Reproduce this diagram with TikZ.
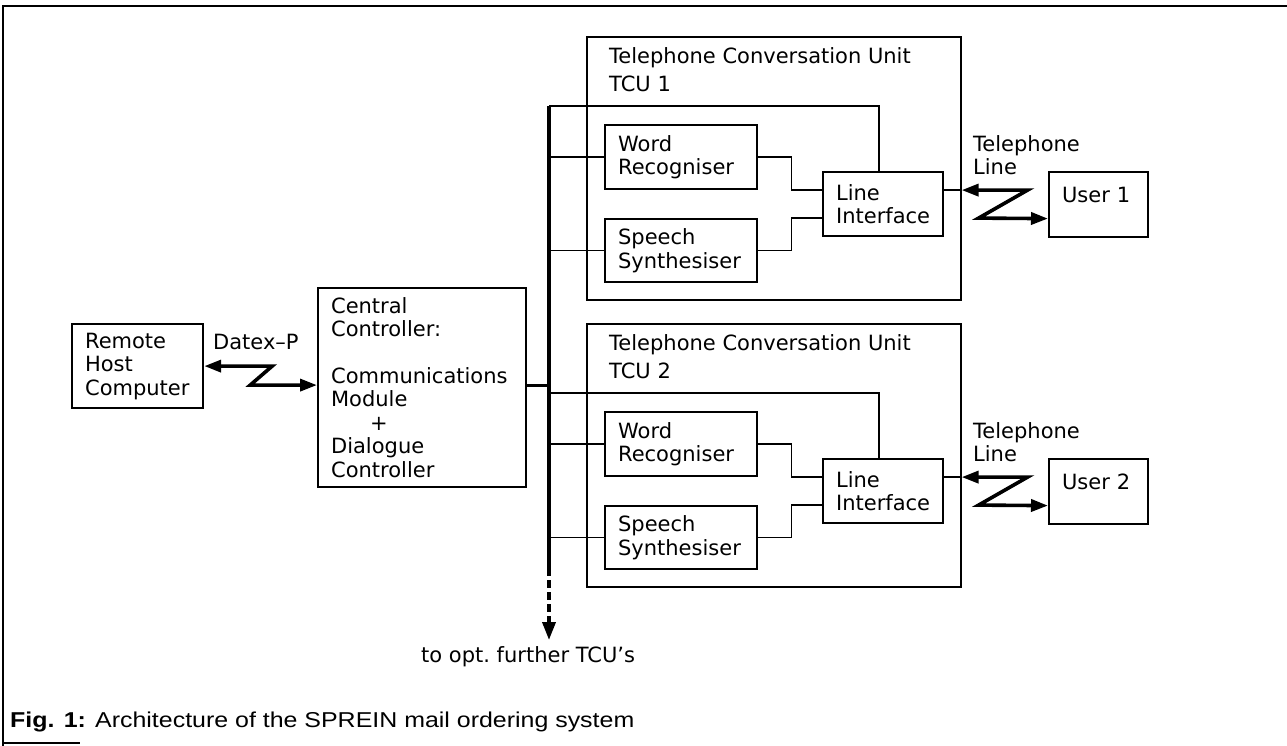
\documentclass[tikz,border=0pt]{standalone}
\usepackage{fontspec}
\setmainfont{DejaVu Sans}
\newfontfamily\capfont[FakeStretch=1.16]{Liberation Sans}
\usetikzlibrary{arrows.meta}
\newcommand\dfont{\fontsize{21}{23.5}\selectfont}
\newcommand\capf{\capfont\fontsize{21.5}{24}\selectfont}
\begin{document}
\begin{tikzpicture}[x=1pt,y=-1pt,
  blk/.style={draw,line width=2.2pt,anchor=north west,inner xsep=13pt,inner ysep=0pt,align=left,font=\dfont},
  unit/.style={draw,line width=1.6pt,anchor=north west,inner sep=0pt,minimum width=374pt,minimum height=263pt},
  lbl/.style={anchor=west,inner sep=0pt,align=left,font=\dfont},
  wire/.style={line width=1.3pt},
  bus/.style={line width=3.6pt},
  zz/.style={line width=3.6pt,line join=miter,{Triangle[length=17pt,width=12pt]}-{Triangle[length=17pt,width=12pt]}}]
\useasboundingbox (0,0) rectangle (1287,746);
% outer frame
\coordinate (fTL) at (3,6);
\coordinate (fTR) at (1287,6);
\coordinate (fBL) at (3,746);
\coordinate (fB1) at (3,743);
\coordinate (fB2) at (80,743);
\draw[line width=1.8pt] (fTR) -- (fTL) -- (fBL);
\draw[line width=1.4pt] (fB1) -- (fB2);

% left part
\node[blk,text width=105pt,minimum height=84pt] (RHC) at (71,323) {Remote\\Host\\Computer};
\node[blk,text width=182pt,minimum height=199pt] (CC) at (317,287)
  {Central\\Controller:\\[23pt]Communications\\Module\\\hspace*{39pt}+\\Dialogue\\Controller};
\node[lbl] (datex) at (213,342) {Datex--P};
\coordinate (ccIn) at ([yshift=2.5pt]CC.west);
\draw[zz] (RHC.east) -- ++(68,0) -- ++(-22,19) -- (ccIn);

% bus
\coordinate (busTop) at (549,106);
\coordinate (busEnd) at (549,568);
\coordinate (busTip) at (549,640);
\draw[bus] (busTop) -- (busEnd);
\draw[bus,dash pattern=on 8pt off 4pt,-{Triangle[length=18pt,width=13pt]}] (busEnd) -- (busTip);
\coordinate (ccOut) at ([yshift=2.5pt]CC.east);
\draw[line width=3pt] (ccOut) -- (ccOut -| busTop);
\node[lbl] (further) at (421,657) {to opt.\ further TCU's};

% TCUs
\foreach \i/\d in {1/0,2/287}{
  \node[unit] (TCU\i) at (586,{36+\d}) {};
  \node[lbl,anchor=base west] (ttl\i) at (609,{63.5+\d}) {Telephone Conversation Unit};
  \node[lbl,anchor=base west] (num\i) at (609,{91.5+\d}) {TCU \i};
  \node[blk,text width=126pt,minimum height=64pt] (WR\i) at (604,{124+\d}) {Word\\Recogniser};
  \node[blk,text width=126pt,minimum height=63pt] (SS\i) at (604,{218+\d}) {Speech\\Synthesiser};
  \node[blk,text width=94pt,minimum height=64pt] (LI\i) at (822,{171+\d}) {Line\\Interface};
  \node[blk,text width=73pt,text height=30pt,text depth=35pt] (User\i) at (1048,{171+\d}) {User \i};
  \node[lbl] (tel\i) at (973,{155+\d}) {Telephone\\Line};
  \coordinate (bt\i) at (549,{106+\d});
  \draw[wire] (bt\i) -| ([xshift=-4pt]LI\i.north);
  \draw[wire] (WR\i.west -| busTop) -- (WR\i.west);
  \draw[wire] (SS\i.west -| busTop) -- (SS\i.west);
  \draw[wire] (WR\i.east) -- ++(33,0) |- ([yshift=14pt]LI\i.west);
  \draw[wire] (SS\i.east) -- ++(33,0) |- ([yshift=-14pt]LI\i.west);
  \coordinate (lo\i) at ([yshift=14pt]LI\i.east);
  \coordinate (tl\i) at (lo\i -| TCU\i.east);
  \coordinate (ui\i) at ([yshift=-14pt]User\i.west);
  \draw[wire] (lo\i) -- (tl\i);
  \draw[zz] (tl\i) -- ++(66,0) -- ++(-49,28) -- (ui\i);
}

% caption
\node[anchor=west,inner sep=0pt,font=\capf] (cap) at (10,722) {\textbf{Fig. 1:} Architecture of the SPREIN mail ordering system};
\end{tikzpicture}
\end{document}
